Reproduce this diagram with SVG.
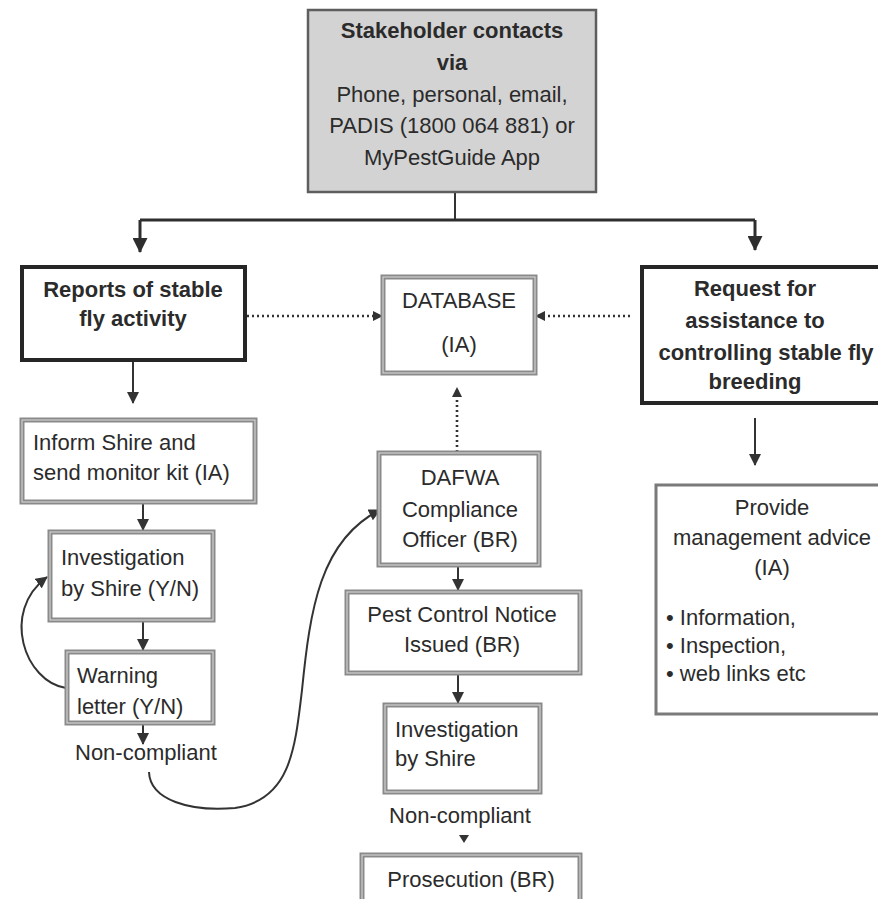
<svg xmlns="http://www.w3.org/2000/svg" width="878" height="899" viewBox="0 0 878 899">
<style>
text{font-family:"Liberation Sans",Arial,sans-serif;font-size:22px;fill:#2b2b2b}
.b{font-weight:bold}
.m{text-anchor:middle}
.dbl{fill:#fff;stroke:#8a8a8a;stroke-width:5}
.dbli{fill:none;stroke:#d0d0d0;stroke-width:1.2}
.thick{fill:#fff;stroke:#262626;stroke-width:4}
.top{fill:#d3d3d3;stroke:#5e5e5e;stroke-width:2.5}
.single{fill:#fff;stroke:#7a7a7a;stroke-width:3}
.ln{fill:none;stroke:#333;stroke-width:2}
.lnT{fill:none;stroke:#2e2e2e;stroke-width:3}
.dot{fill:none;stroke:#333;stroke-width:2.6;stroke-dasharray:2 3}
</style>
<defs>
<marker id="ah" markerUnits="userSpaceOnUse" markerWidth="12" markerHeight="12" viewBox="0 0 12 12" refX="11" refY="6" orient="auto"><path d="M0,0 L12,6 L0,12 z" fill="#333"/></marker>
<marker id="ahL" markerUnits="userSpaceOnUse" markerWidth="15" markerHeight="15" viewBox="0 0 15 15" refX="14" refY="7.5" orient="auto"><path d="M0,0 L15,7.5 L0,15 z" fill="#2e2e2e"/></marker>
<marker id="ahS" markerUnits="userSpaceOnUse" markerWidth="10" markerHeight="10" viewBox="0 0 10 10" refX="9" refY="5" orient="auto"><path d="M0,0 L10,5 L0,10 z" fill="#333"/></marker>
</defs>
<rect width="878" height="899" fill="#fff"/>

<g id="connectors">
<path class="ln" d="M455 192 V220"/>
<path class="lnT" d="M140 220 H755"/>
<path class="lnT" d="M140 220 V252" marker-end="url(#ahL)"/>
<path class="lnT" d="M755 220 V250" marker-end="url(#ahL)"/>
<path class="ln" d="M133 361 V403" marker-end="url(#ah)"/>
<path class="dot" d="M247 316 H382" marker-end="url(#ahS)"/>
<path class="dot" d="M630 316 H536" marker-end="url(#ahS)"/>
<path class="dot" d="M457 452 V388" marker-end="url(#ahS)"/>
<path class="ln" d="M755 418 V465" marker-end="url(#ah)"/>
<path class="ln" d="M143 503 V530" marker-end="url(#ah)"/>
<path class="ln" d="M143 621 V650" marker-end="url(#ah)"/>
<path class="ln" d="M143 724 V744" marker-end="url(#ah)"/>
<path class="ln" d="M66 688 C25 682, 0 612, 47 577" marker-end="url(#ah)"/>
<path class="ln" d="M149 772 C150 800, 190 812, 235 808 C290 800, 295 750, 302 690 C310 610, 320 540, 380 510" marker-end="url(#ah)"/>
<path class="ln" d="M458 566 V590" marker-end="url(#ah)"/>
<path class="ln" d="M458 674 V703" marker-end="url(#ah)"/>
<path d="M459 835 L469 835 L464 843 z" fill="#333"/>
</g>

<g id="stakeholder">
<rect class="top" x="308" y="10" width="288" height="182"/>
<text class="b m" x="452" y="38">Stakeholder contacts</text>
<text class="b m" x="452" y="70">via</text>
<text class="m" x="452" y="102">Phone, personal, email,</text>
<text class="m" x="452" y="133">PADIS (1800 064 881) or</text>
<text class="m" x="452" y="165">MyPestGuide App</text>
</g>

<g id="reports">
<rect class="thick" x="22" y="267" width="223" height="93"/>
<text class="b m" x="133" y="297">Reports of stable</text>
<text class="b m" x="133" y="326">fly activity</text>
</g>

<g id="database">
<rect class="dbl" x="383" y="277" width="152" height="96"/>
<rect class="dbli" x="383" y="277" width="152" height="96"/>
<text class="m" x="459" y="308">DATABASE</text>
<text class="m" x="459" y="352">(IA)</text>
</g>

<g id="request">
<rect class="thick" x="642" y="267" width="260" height="136"/>
<text class="b m" x="755" y="296">Request for</text>
<text class="b m" x="755" y="328">assistance to</text>
<text class="b m" x="766" y="360">controlling stable fly</text>
<text class="b m" x="755" y="389">breeding</text>
</g>

<g id="inform">
<rect class="dbl" x="22" y="420" width="233" height="82"/>
<rect class="dbli" x="22" y="420" width="233" height="82"/>
<text x="33" y="450">Inform Shire and</text>
<text x="33" y="480">send monitor kit (IA)</text>
</g>

<g id="investigation-shire-yn">
<rect class="dbl" x="50" y="532" width="163" height="88"/>
<rect class="dbli" x="50" y="532" width="163" height="88"/>
<text x="61" y="565">Investigation</text>
<text x="61" y="596">by Shire (Y/N)</text>
</g>

<g id="warning">
<rect fill="#fff" x="67" y="652" width="146" height="71"/>
<text x="77" y="683">Warning</text>
<text x="77" y="714">letter (Y/N)</text>
<rect class="dbl" fill="none" style="fill:none" x="67" y="652" width="146" height="71"/>
<rect class="dbli" x="67" y="652" width="146" height="71"/>
</g>

<g id="noncompliant-left">
<text x="75" y="760">Non-compliant</text>
</g>

<g id="dafwa">
<rect class="dbl" x="379" y="453" width="160" height="112"/>
<rect class="dbli" x="379" y="453" width="160" height="112"/>
<text class="m" x="460" y="485">DAFWA</text>
<text class="m" x="460" y="517">Compliance</text>
<text class="m" x="460" y="547">Officer (BR)</text>
</g>

<g id="pest-control">
<rect class="dbl" x="347" y="592" width="233" height="81"/>
<rect class="dbli" x="347" y="592" width="233" height="81"/>
<text class="m" x="462" y="622">Pest Control Notice</text>
<text class="m" x="462" y="652">Issued (BR)</text>
</g>

<g id="investigation-shire">
<rect class="dbl" x="385" y="705" width="155" height="87"/>
<rect class="dbli" x="385" y="705" width="155" height="87"/>
<text x="395" y="737">Investigation</text>
<text x="395" y="766">by Shire</text>
</g>

<g id="noncompliant-mid">
<text class="m" x="460" y="823">Non-compliant</text>
</g>

<g id="prosecution">
<rect class="dbl" x="362" y="855" width="218" height="60"/>
<rect class="dbli" x="362" y="855" width="218" height="60"/>
<text class="m" x="471" y="887">Prosecution (BR)</text>
</g>

<g id="provide">
<rect class="single" x="656" y="485" width="240" height="229"/>
<text class="m" x="772" y="515">Provide</text>
<text class="m" x="772" y="545">management advice</text>
<text class="m" x="772" y="575">(IA)</text>
<text x="666" y="625">• Information,</text>
<text x="666" y="653">• Inspection,</text>
<text x="666" y="681">• web links etc</text>
</g>
</svg>
